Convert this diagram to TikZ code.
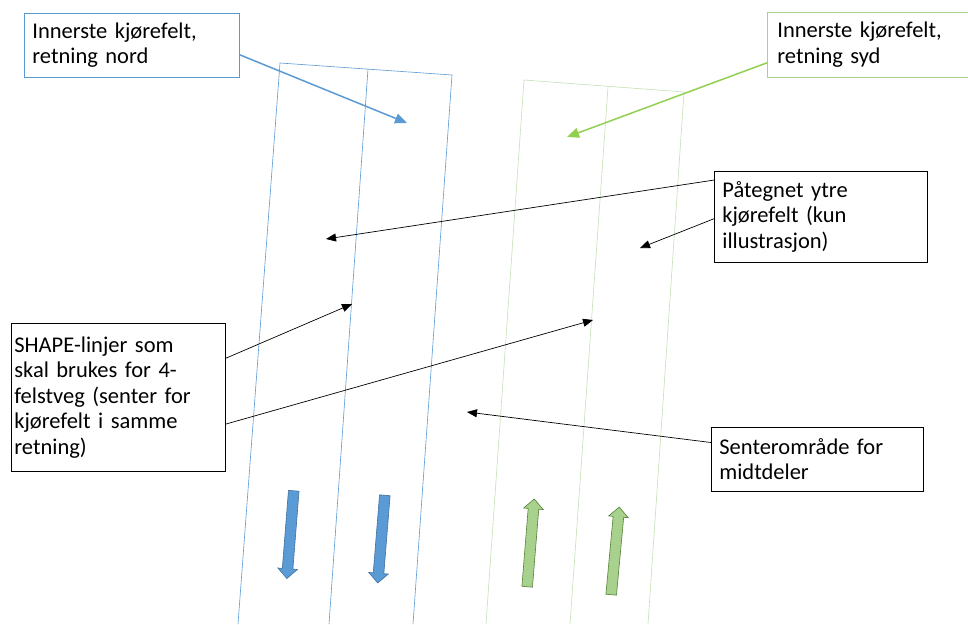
\documentclass[tikz,border=0pt]{standalone}
\usepackage{fontspec}
\setmainfont{Carlito}
\usepackage{tikz}
\usetikzlibrary{shapes,arrows,arrows.meta}
\definecolor{nordblue}{HTML}{5B9BD5}
\definecolor{nordedge}{HTML}{41719C}
\definecolor{sydgreen}{HTML}{92D050}
\definecolor{sydlane}{HTML}{C5E0B4}
\definecolor{sydfill}{HTML}{A9D18E}
\definecolor{sydedge}{HTML}{538135}
\newcommand{\notefont}{\fontsize{22.5}{25.5}\selectfont\spaceskip=0.16em\relax}
\tikzstyle{line} = [draw, line width=0.7pt, -{Triangle[length=10pt,width=8pt]}]
\tikzstyle{note} = [rectangle, draw, fill=white, line width=0.7pt, anchor=north west, align=left, inner xsep=8pt, font=\notefont]
\tikzstyle{blockpil} = [single arrow, draw, line width=0.6pt, inner sep=5pt, minimum width=19pt, single arrow head extend=4.5pt, minimum height=88pt]

\begin{document}
\begin{tikzpicture}[x=1pt, y=-1pt]
	\useasboundingbox [fill=white] (0,0) rectangle (968,624);
	
	% kjorefelt nord
	\draw [nordblue, line width=0.6pt] (238,624) -- (280,63) -- (452,75) -- (413,624);
	\draw [nordblue, line width=0.6pt] (368,69) -- (329,624);
	% kjorefelt syd
	\draw [sydlane, line width=0.6pt] (486,624) -- (524,80) -- (684,92) -- (648,624);
	\draw [sydlane, line width=0.6pt] (608,87) -- (570,624);
	
	\node [blockpil, fill=nordblue, draw=nordedge, rotate=-94.5] (pilN1) at (290.5,532) {};
	\node [blockpil, fill=nordblue, draw=nordedge, rotate=-94.6] (pilN2) at (381.5,536.5) {};
	\node [blockpil, fill=sydfill, draw=sydedge, rotate=85.4] (pilS1) at (530.5,545.5) {};
	\node [blockpil, fill=sydfill, draw=sydedge, rotate=84.7] (pilS2) at (615,553.5) {};
	
	\node [note, draw=nordblue, text width=199pt, minimum height=64pt] (nord) at (24,13) {Innerste kjørefelt,\\retning nord};
	\node [note, draw=sydfill, text width=183pt, minimum height=65pt, inner xsep=10pt] (syd) at (767,12) {Innerste kjørefelt,\\retning syd};
	\node [note, text width=197pt, minimum height=91pt] (ytre) at (714,171) {Påtegnet ytre\\kjørefelt (kun\\illustrasjon)};
	\node [note, text width=208pt, minimum height=148pt, inner xsep=3pt] (shape) at (11,323) {SHAPE-linjer som\\skal brukes for 4-\\felstveg (senter for\\kjørefelt i samme\\retning)};
	\node [note, text width=196pt, minimum height=64pt] (senter) at (711,427) {Senterområde for\\midtdeler};
	
	\coordinate (nordmaal) at (407,123);
	\coordinate (sydmaal) at (567,137);
	\coordinate (ytreN) at (326,239);
	\coordinate (ytreS) at (640,248);
	\coordinate (shapeN) at (352,304);
	\coordinate (shapeS) at (593,320);
	\coordinate (midt) at (467,412);
	
	\path [line, draw=nordblue, line width=1.5pt, -{Triangle[length=12pt,width=10pt]}] (nord.-5) to (nordmaal);
	\path [line, draw=sydgreen, line width=1.5pt, -{Triangle[length=12pt,width=10pt]}] (syd.190) to (sydmaal);
	\path [line] (ytre.161) to (ytreN);
	\path [line] (ytre.181) to (ytreS);
	\path [line] (shape.20) to (shapeN);
	\path [line] (shape.-14) to (shapeS);
	\path [line] (senter.171) to (midt);
\end{tikzpicture}
\end{document}
